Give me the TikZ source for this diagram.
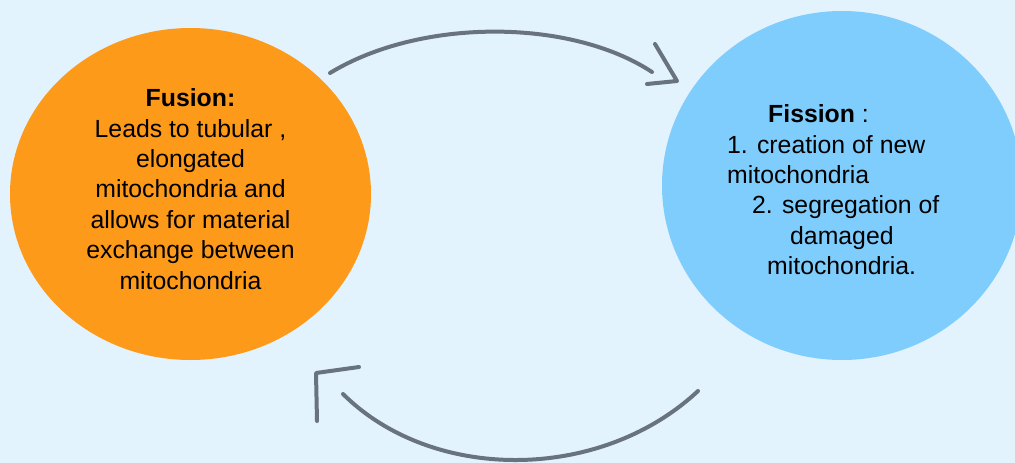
\documentclass[tikz,border=0pt]{standalone}
\usepackage{fontspec}
\setmainfont{Liberation Sans}
\usetikzlibrary{shapes.geometric}
\definecolor{bgc}{RGB}{227,243,254}
\definecolor{orangec}{RGB}{254,154,25}
\definecolor{bluec}{RGB}{127,205,253}
\definecolor{arrowc}{RGB}{104,115,125}
\tikzset{
  blob/.style={ellipse, draw=none, inner sep=0pt},
  label text/.style={inner sep=0pt, font=\fontsize{24.8}{30.4}\selectfont, text=black},
  cycle arrow/.style={draw=arrowc, line width=4pt, line cap=round, line join=round},
}
\begin{document}
\begin{tikzpicture}[x=1pt,y=-1pt]
\fill[bgc] (0,0) rectangle (1015,463);
\useasboundingbox (0,0) rectangle (1015,463);

\node[blob, fill=orangec, minimum width=361pt, minimum height=332pt] (fusion) at (190.5,194) {};
\node[blob, fill=bluec, minimum width=360pt, minimum height=349pt] (fission) at (842,185.5) {};

\node[label text, align=center, anchor=north] (fusiontext) at (190.5,88.5)
  {\textbf{Fusion:}\\Leads to tubular ,\\elongated\\mitochondria and\\allows for material\\exchange between\\mitochondria};

\node[label text, align=left, anchor=north west] (fissiontext) at (727,104.5)
  {\hspace*{41pt}\textbf{Fission} :\\
   1. creation of new\\
   mitochondria\\
   \hspace*{25pt}2. segregation of\\
   \hspace*{63pt}damaged\\
   \hspace*{40pt}mitochondria.};

% top arrow (fusion -> fission)
\coordinate (t1) at (330,73);
\coordinate (t2) at (652,72);
\coordinate (th1) at (655,44);
\coordinate (tt) at (677,81);
\coordinate (th2) at (647,84);
\draw[cycle arrow] (t1) .. controls (420,18) and (570,18) .. (t2);
\draw[cycle arrow] (th1) -- (tt) -- (th2);

% bottom arrow (fission -> fusion)
\coordinate (b1) at (698,391);
\coordinate (b2) at (343,394);
\coordinate (bh1) at (359,367);
\coordinate (bt) at (316,373);
\coordinate (bh2) at (317,421);
\draw[cycle arrow] (b1) .. controls (600,482.5) and (432,482.5) .. (b2);
\draw[cycle arrow] (bh1) -- (bt) -- (bh2);
\end{tikzpicture}
\end{document}
